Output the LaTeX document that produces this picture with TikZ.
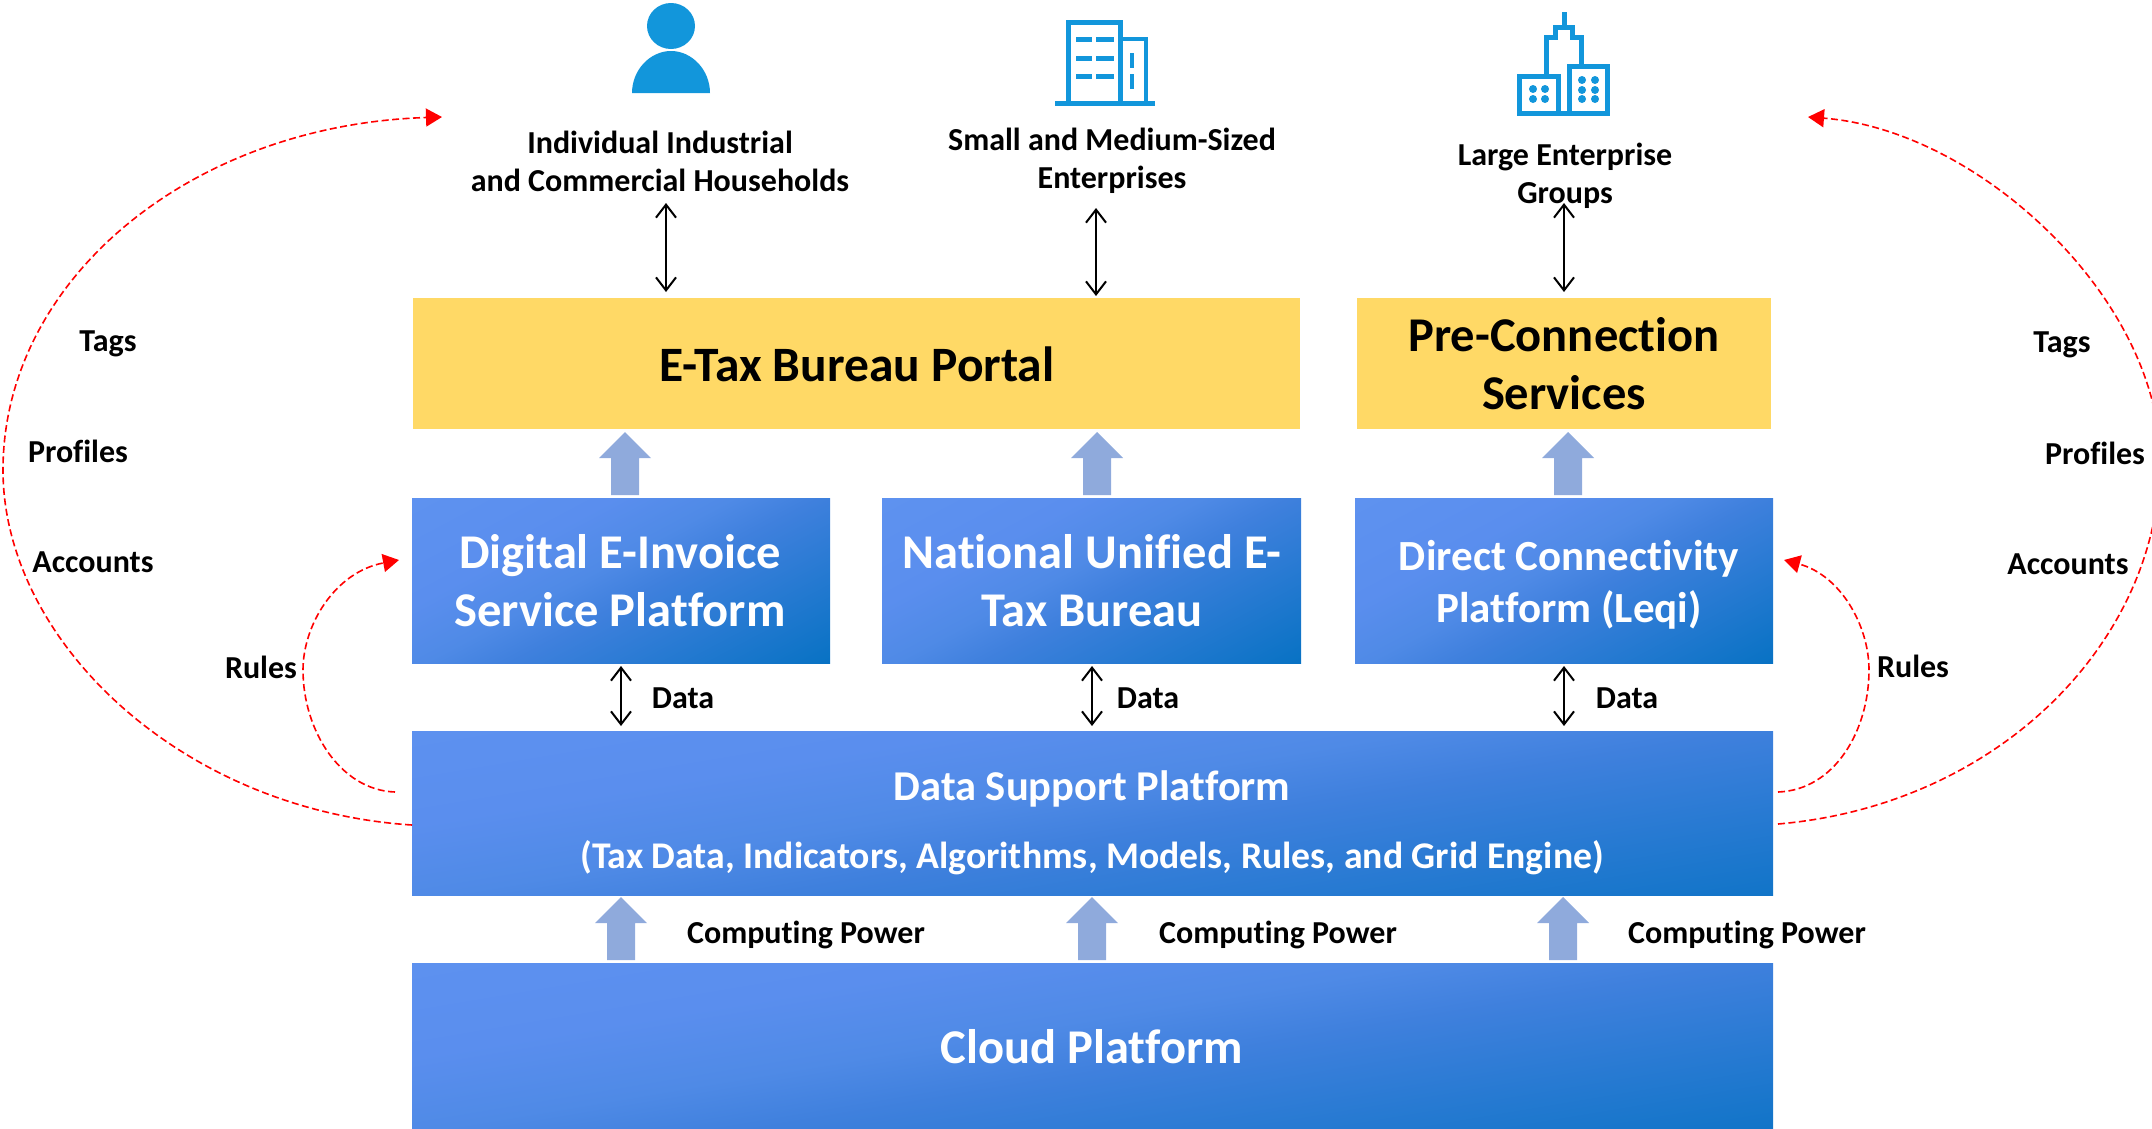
\documentclass[tikz,border=0pt]{standalone}
\usepackage{fontspec}
\setmainfont{Carlito}[Ligatures=NoCommon]
\usetikzlibrary{arrows.meta}
\definecolor{gold}{HTML}{FFD966}
\definecolor{bluea}{HTML}{5F93F0}
\definecolor{bluem}{HTML}{5A8EEE}
\definecolor{bluen}{HTML}{4F8AE6}
\definecolor{blueb}{HTML}{3F80DD}
\definecolor{bluec}{HTML}{0070C0}
\definecolor{icon}{HTML}{1296DB}
\definecolor{upblue}{HTML}{8FAADC}
\pgfdeclareverticalshading{bluediag}{100bp}{color(0bp)=(bluec); color(12bp)=(bluec); color(46bp)=(blueb); color(54bp)=(bluen); color(65bp)=(bluem); color(88bp)=(bluea); color(100bp)=(bluea)}
\tikzset{
  x=1pt,y=-1pt,
  bluebox/.style={draw=none,shading=bluediag,shading angle=28},
  widebox/.style={draw=none,shading=bluediag,shading angle=9.5},
  lbl/.style={font=\bfseries\fontsize{32}{38}\selectfont,align=center,text=black},
  whitelbl/.style={font=\bfseries\fontsize{48.5}{58}\selectfont,align=center,text=white},
  dbl/.style={{Straight Barb[length=13pt,width=20pt]}-{Straight Barb[length=13pt,width=20pt]},line width=2pt,black},
  reddash/.style={red,dash pattern=on 7pt off 3.5pt,line width=1.6pt},
  redarrow/.style={reddash,-{Triangle[length=16pt,width=18pt,fill=red]}},
  uparrow/.style={fill=upblue,draw=none},
  iconfill/.style={fill=icon,draw=none},
  iconline/.style={draw=icon,line width=5pt,fill=none},
}
\newcommand{\uparr}[3]{\fill[uparrow] (#1-14,#3) -- (#1-14,#2+26) -- (#1-26,#2+26) -- (#1,#2) -- (#1+26,#2+26) -- (#1+14,#2+26) -- (#1+14,#3) -- cycle;}
\begin{document}
\begin{tikzpicture}
\useasboundingbox (0,0) rectangle (2152,1128);
% boxes
\fill[gold] (413,298) rectangle (1300,429);
\node (portal) at (857,364) [whitelbl,text=black,font=\bfseries\fontsize{49.5}{58}\selectfont] {E-Tax Bureau Portal};
\fill[gold] (1357,298) rectangle (1771,429);
\node (pre) at (1564,364) [whitelbl,text=black] {Pre-Connection\\Services};
\shade[bluebox] (412,498) rectangle (830,663);
\node (dig) at (620,581) [whitelbl] {Digital E-Invoice\\Service Platform};
\shade[bluebox] (882,498) rectangle (1301,663);
\node (nat) at (1092,581) [whitelbl] {National Unified E-\\Tax Bureau};
\shade[bluebox] (1355,498) rectangle (1773,663);
\node (dir) at (1569,585) [whitelbl,font=\bfseries\fontsize{43}{52}\selectfont] {Direct Connectivity\\Platform (Leqi)};
\shade[widebox] (412,731) rectangle (1773,895);
\node (dsp) at (1092,789) [whitelbl,font=\bfseries\fontsize{42.5}{50}\selectfont] {Data Support Platform};
\node (dsq) at (1092,858) [whitelbl,font=\bfseries\fontsize{37.7}{50}\selectfont] {(Tax Data, Indicators, Algorithms, Models, Rules, and Grid Engine)};
\shade[widebox] (412,963) rectangle (1773,1128);
\node (cloud) at (1092,1047) [whitelbl] {Cloud Platform};
% block arrows
\uparr{625}{432}{495}
\uparr{1097}{432}{495}
\uparr{1568}{432}{495}
\uparr{621}{897}{960}
\uparr{1092}{897}{960}
\uparr{1563}{897}{960}
% labels
\node[lbl] (ind) at (660,161) {Individual Industrial\\and Commercial Households};
\node[lbl] (sme) at (1112,161) {Small and Medium-Sized\\Enterprises};
\node[lbl] (lar) at (1565,176) {Large Enterprise\\Groups};
\foreach \n/\x/\y/\t in {a/108/344/Tags,b/78/451/Profiles,c/93/562/Accounts,d/261/667/Rules,e/2062/345/Tags,f/2095/453/Profiles,g/2068/564/Accounts,h/1913/666/Rules,i/683/698/Data,j/1148/698/Data,k/1627/698/Data,l/806/935/Computing Power,m/1278/935/Computing Power,n/1747/935/Computing Power}
  \node[lbl] (t\n) at (\x,\y) {\t};
% double arrows
\coordinate (da1) at (666,203); \coordinate (da2) at (666,292);
\coordinate (db1) at (1096,208); \coordinate (db2) at (1096,296);
\coordinate (dc1) at (1564,203); \coordinate (dc2) at (1564,292);
\coordinate (dd1) at (621,666); \coordinate (dd2) at (621,726);
\coordinate (de1) at (1092,666); \coordinate (de2) at (1092,726);
\coordinate (df1) at (1564,666); \coordinate (df2) at (1564,726);
\foreach \p in {a,b,c,d,e,f} \draw[dbl] (d\p1) -- (d\p2);
% curves
\coordinate (r1) at (412,825); \coordinate (r2) at (442,117);
\draw[redarrow] (r1) .. controls (180,810) and (3,640) .. (3,470) .. controls (3,280) and (190,125) .. (r2);
\coordinate (r3) at (395,792); \coordinate (r4) at (399,560);
\draw[redarrow] (r3) .. controls (340,790) and (303,730) .. (303,670) .. controls (303,625) and (335,572) .. (r4);
\coordinate (r5) at (1778,824); \coordinate (r6) at (1808,117);
\draw[redarrow] (r5) .. controls (2000,805) and (2160,640) .. (2160,460) .. controls (2160,300) and (1980,130) .. (r6);
\coordinate (r7) at (1778,792); \coordinate (r8) at (1784,560);
\draw[redarrow] (r7) .. controls (1835,790) and (1869,730) .. (1869,670) .. controls (1869,625) and (1840,575) .. (r8);
% person
\fill[iconfill] (671,26) ellipse (24 and 23);
\fill[iconfill] (632,93) .. controls (632,70) and (650,51) .. (671,51) .. controls (692,51) and (710,70) .. (710,93) -- cycle;
% building 1
\fill[iconfill] (1055,101) rectangle (1155,106);
\draw[iconline] (1068,101) -- (1068,22) -- (1120,22) -- (1120,101);
\draw[iconline,line width=4pt] (1120,39) -- (1146,39) -- (1146,101);
\foreach \y in {37,56,74} { \fill[iconfill] (1076,\y) rectangle (1092,\y+5); \fill[iconfill] (1096,\y) rectangle (1114,\y+5);}
\fill[iconfill] (1130,53) rectangle (1134,68);
\fill[iconfill] (1130,74) rectangle (1134,89);
% building 2
\draw[iconline] (1519.5,113.5) -- (1519.5,76.5) -- (1558,76.5) -- (1558,113.5) -- cycle;
\draw[iconline] (1569.5,113.5) -- (1569.5,66.5) -- (1607.5,66.5) -- (1607.5,113.5) -- cycle;
\fill[iconfill] (1558,111) rectangle (1570,116);
\draw[iconline] (1546.5,76) -- (1546.5,37.5) -- (1555,37.5) -- (1555,27.5) -- (1572.5,27.5) -- (1572.5,37.5) -- (1581.5,37.5) -- (1581.5,66);
\fill[iconfill] (1561.5,12) rectangle (1566.5,28);
\foreach \x/\y in {1533/89,1545/89,1533/99,1545/99,1582/80,1595/80,1582/90,1595/90,1582/99,1595/99}
  \fill[iconfill] (\x,\y) circle (4);
\end{tikzpicture}
\end{document}
